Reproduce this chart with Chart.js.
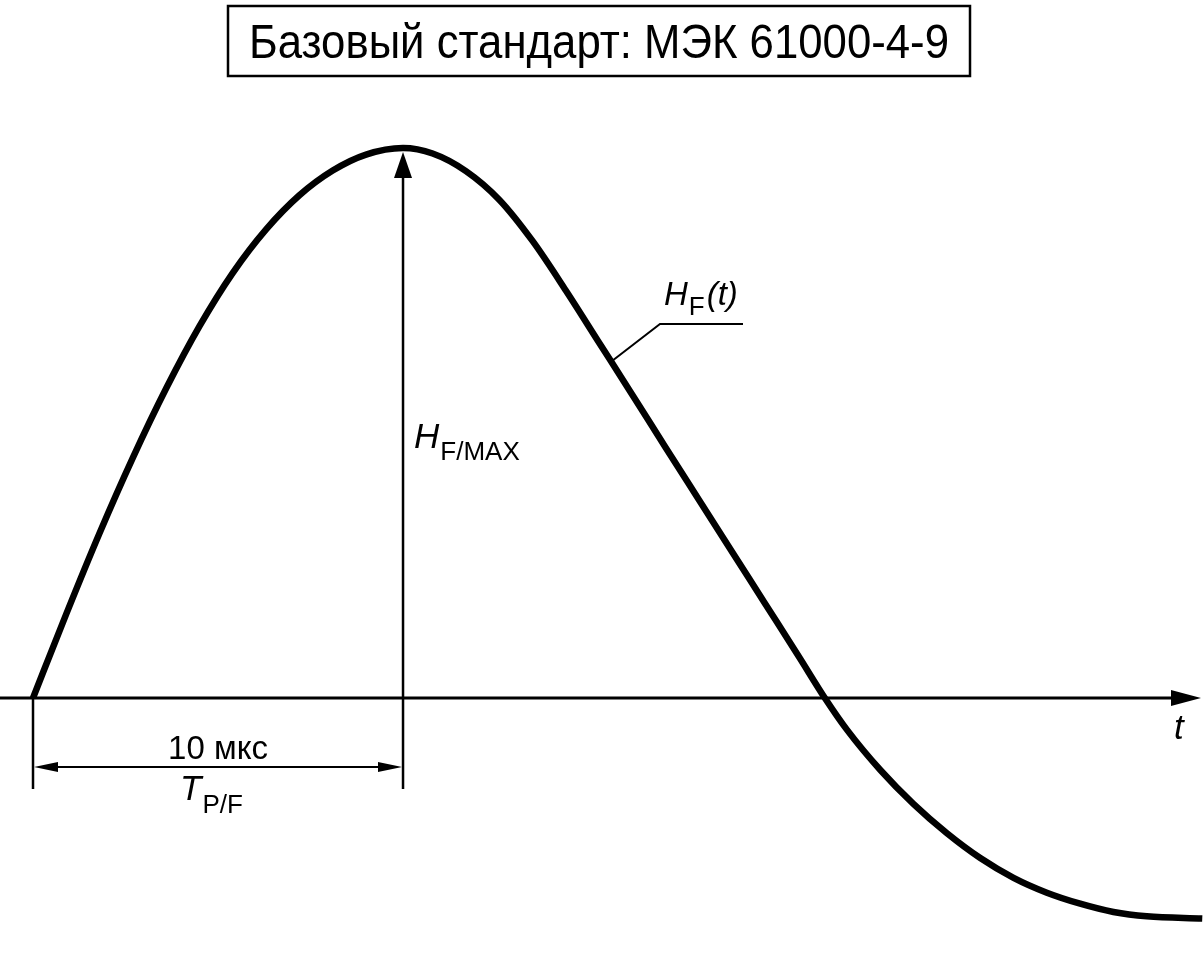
<!DOCTYPE html>
<html>
<head>
<meta charset="utf-8">
<script src="https://cdn.jsdelivr.net/npm/chart.js@4"></script>
<style>
  body { margin: 0; background: #fff; }
  #wrap { width: 1203px; height: 962px; }
</style>
</head>
<body>
<div id="wrap"><canvas id="pulseChart" width="1203" height="962"></canvas></div>
<script>
// заголовок и подписи
const titleText = 'Базовый стандарт: МЭК 61000-4-9';
const durationLabel = '10 мкс';

// время, мкс
const timeUs = [
    0, 0.9, 1.8, 2.7, 3.6, 4.5, 5.4, 6.3, 7.2, 8.1, 9.0, 10,
    10.8, 11.7, 12.6, 13.5, 14.4, 15.3, 16.2, 17.1, 18.0, 18.9, 19.8, 20.7, 21.4,
    22.0, 22.9, 23.8, 24.7, 25.6, 26.5, 27.4, 28.3, 29.2, 30.1, 31.6
];
// H_F(t) / H_F/MAX
const fieldH = [
    0, 0.153, 0.300, 0.437, 0.563, 0.676, 0.773, 0.852, 0.914, 0.959, 0.988, 1.0,
    0.99, 0.958, 0.906, 0.831, 0.741, 0.646, 0.551, 0.455, 0.360, 0.265, 0.170, 0.075, 0,
    -0.058, -0.131, -0.193, -0.246, -0.291, -0.327, -0.354, -0.374, -0.389, -0.397, -0.401
];

const peakTime = 10;     // T_P/F
const tMin = -0.892, tMax = 31.62;
const hMin = -0.48, hMax = 1.269;

function arrowHead(ctx, x, y, dx, dy, len, half) {
    // острие в (x,y), направление (dx,dy)
    const px = -dy, py = dx;
    ctx.beginPath();
    ctx.moveTo(x, y);
    ctx.lineTo(x - dx * len + px * half, y - dy * len + py * half);
    ctx.lineTo(x - dx * len - px * half, y - dy * len - py * half);
    ctx.closePath();
    ctx.fill();
}

function subText(ctx, x, y, main, sub, mainSize, subSize, subDy, italicMain) {
    ctx.font = (italicMain ? 'italic ' : '') + mainSize + 'px "Liberation Sans", Arial, sans-serif';
    ctx.fillText(main, x, y);
    const w = ctx.measureText(main).width;
    ctx.font = subSize + 'px "Liberation Sans", Arial, sans-serif';
    ctx.fillText(sub, x + w + 1, y + subDy);
    return x + w + 1 + ctx.measureText(sub).width;
}

const drawingPlugin = {
    id: 'drawing',
    afterDatasetsDraw(chart) {
        const ctx = chart.ctx;
        const xs = chart.scales.x, ys = chart.scales.y;
        const x0 = xs.getPixelForValue(0);
        const xPeak = xs.getPixelForValue(peakTime);
        const yZero = ys.getPixelForValue(0);
        const yTop = ys.getPixelForValue(1);

        ctx.save();
        ctx.fillStyle = '#000';
        ctx.strokeStyle = '#000';

        // ось t
        ctx.lineWidth = 3;
        ctx.beginPath();
        ctx.moveTo(0, yZero);
        ctx.lineTo(1180, yZero);
        ctx.stroke();
        arrowHead(ctx, 1201, yZero, 1, 0, 30, 8);

        // стрелка H_F/MAX
        const dimY = 767;
        ctx.lineWidth = 2.5;
        ctx.beginPath();
        ctx.moveTo(xPeak, dimY + 22);
        ctx.lineTo(xPeak, yTop + 20);
        ctx.stroke();
        arrowHead(ctx, xPeak, yTop + 4, 0, -1, 26, 9);

        // выносная линия и размер T_P/F
        ctx.beginPath();
        ctx.moveTo(x0, yZero);
        ctx.lineTo(x0, dimY + 22);
        ctx.stroke();
        ctx.lineWidth = 2;
        ctx.beginPath();
        ctx.moveTo(x0 + 10, dimY);
        ctx.lineTo(xPeak - 10, dimY);
        ctx.stroke();
        arrowHead(ctx, x0 + 1, dimY, -1, 0, 24, 5);
        arrowHead(ctx, xPeak - 1, dimY, 1, 0, 24, 5);

        // подписи
        ctx.textBaseline = 'alphabetic';
        ctx.textAlign = 'center';
        ctx.font = '33px "Liberation Sans", Arial, sans-serif';
        ctx.fillText(durationLabel, (x0 + xPeak) / 2, 759);
        ctx.textAlign = 'left';
        subText(ctx, 180, 800, 'T', 'P/F', 35, 26, 13, true);
        subText(ctx, 414, 448, 'H', 'F/MAX', 35, 26, 12, true);
        const endX = subText(ctx, 664, 305, 'H', 'F', 33, 26, 10, true);
        ctx.font = 'italic 33px "Liberation Sans", Arial, sans-serif';
        ctx.fillText('(t)', endX + 2, 305);
        ctx.font = 'italic 35px "Liberation Sans", Arial, sans-serif';
        ctx.fillText('t', 1174, 739);

        // выноска H_F(t)
        ctx.lineWidth = 2;
        ctx.beginPath();
        ctx.moveTo(612, 361);
        ctx.lineTo(660, 324);
        ctx.lineTo(743, 324);
        ctx.stroke();

        // рамка заголовка
        ctx.lineWidth = 2.5;
        ctx.strokeRect(228, 6, 742, 70);
        ctx.font = '49px "Liberation Sans", Arial, sans-serif';
        const tw = ctx.measureText(titleText).width;
        const target = 700;
        ctx.translate(599, 58);
        ctx.scale(target / tw, 1);
        ctx.textAlign = 'center';
        ctx.fillText(titleText, 0, 0);
        ctx.restore();
    }
};

const ctx = document.getElementById('pulseChart').getContext('2d');
new Chart(ctx, {
    type: 'scatter',
    data: {
        datasets: [{
            label: 'H_F(t)',
            data: timeUs.map((t, i) => ({ x: t, y: fieldH[i] })),
            showLine: true,
            borderColor: '#000',
            borderWidth: 6.5,
            borderJoinStyle: 'round',
            pointRadius: 0,
            cubicInterpolationMode: 'monotone',
            clip: false
        }]
    },
    options: {
        responsive: false,
        animation: false,
        layout: { padding: 0 },
        plugins: {
            legend: { display: false },
            tooltip: { enabled: false },
            title: { display: false }
        },
        scales: {
            x: { type: 'linear', min: tMin, max: tMax, display: false },
            y: { type: 'linear', min: hMin, max: hMax, display: false }
        }
    },
    plugins: [drawingPlugin]
});
</script>
</body>
</html>
